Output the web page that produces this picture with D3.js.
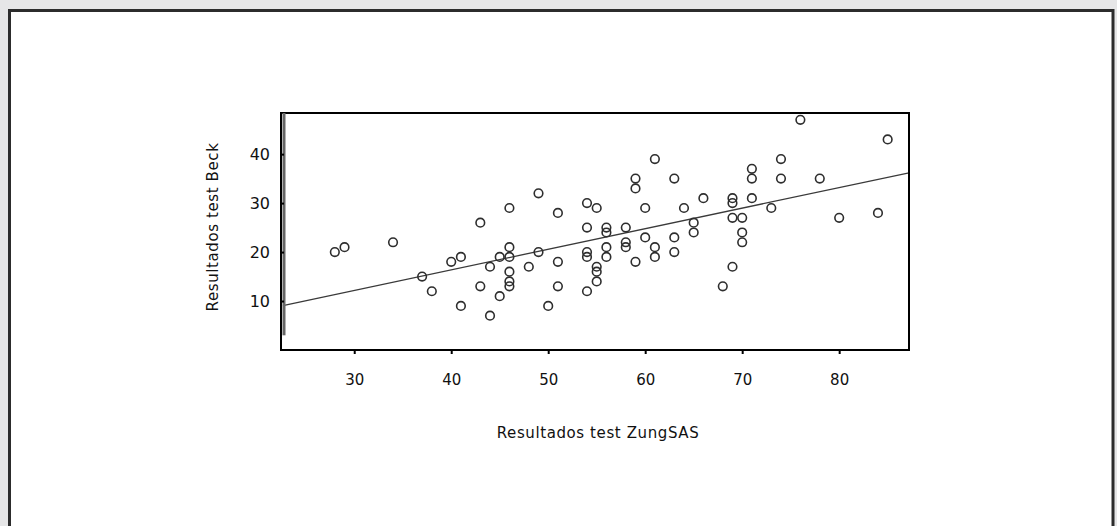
<!DOCTYPE html>
<html>
<head>
<meta charset="utf-8">
<script src="https://cdn.jsdelivr.net/npm/d3@7"></script>
<style>
  body { margin: 0; background: #e6e6e7; }
  svg { display: block; }
  text { font-family: "DejaVu Sans", sans-serif; fill: #111; }
</style>
</head>
<body>
<div id="chart"></div>
<script>
// ZungSAS score (x) vs Beck score (y), one entry per subject
const zungScores = [28, 29, 34, 37, 38, 40, 41, 41, 43, 43, 44, 44, 45, 45,
  46, 46, 46, 46, 46, 46, 48, 49, 49, 50, 51, 51, 51, 54, 54, 54, 54, 54,
  55, 55, 55, 55, 56, 56, 56, 56, 58, 58, 58, 59, 59, 59, 60, 60, 61, 61, 61,
  63, 63, 63, 64, 65, 65, 66, 68, 69, 69, 69, 69, 70, 70, 70, 71, 71, 71,
  73, 74, 74, 76, 78, 80, 84, 85];
const beckScores = [20, 21, 22, 15, 12, 18, 19, 9, 26, 13, 17, 7, 19, 11,
  29, 21, 19, 16, 14, 13, 17, 32, 20, 9, 28, 18, 13, 30, 25, 20, 19, 12,
  29, 17, 16, 14, 25, 24, 21, 19, 25, 22, 21, 35, 33, 18, 29, 23, 39, 21, 19,
  35, 23, 20, 29, 26, 24, 31, 13, 31, 30, 27, 17, 27, 24, 22, 37, 35, 31,
  29, 39, 35, 47, 35, 27, 28, 43];

const xTicks = [30, 40, 50, 60, 70, 80];
const yTicks = [10, 20, 30, 40];

// fitted line
const fitIntercept = -0.43;
const fitSlope = 0.42;

const xTitle = 'Resultados test ZungSAS';
const yTitle = 'Resultados test Beck';

const W = 1117, H = 526;
const plot = {left: 281, top: 113, right: 909, bottom: 350};

const svg = d3.select('#chart').append('svg')
  .attr('width', W)
  .attr('height', H);

// white panel with dark frame
svg.append('rect')
  .attr('x', 9.5).attr('y', 10.5)
  .attr('width', 1103.5).attr('height', 530)
  .attr('fill', '#fff')
  .attr('stroke', '#2c2c2c')
  .attr('stroke-width', 3);

const x = d3.scaleLinear().domain([22.45, 87.2]).range([plot.left, plot.right]);
const y = d3.scaleLinear().domain([0, 48.4]).range([plot.bottom, plot.top]);

const points = zungScores.map((v, i) => ({x: v, y: beckScores[i]}));

// regression line, clipped to the plot box
const x0 = 22.65, x1 = x.domain()[1];
svg.append('line')
  .attr('x1', x(x0)).attr('y1', y(fitIntercept + fitSlope * x0))
  .attr('x2', x(x1)).attr('y2', y(fitIntercept + fitSlope * x1))
  .attr('stroke', '#3a3a3a')
  .attr('stroke-width', 1.3);

svg.selectAll('.pt')
  .data(points)
  .enter()
  .append('circle')
    .attr('class', 'pt')
    .attr('cx', d => x(d.x))
    .attr('cy', d => y(d.y))
    .attr('r', 4.3)
    .attr('fill', 'none')
    .attr('stroke', '#2e2e2e')
    .attr('stroke-width', 1.6);

// plot frame
svg.append('rect')
  .attr('x', plot.left).attr('y', plot.top)
  .attr('width', plot.right - plot.left)
  .attr('height', plot.bottom - plot.top)
  .attr('fill', 'none')
  .attr('stroke', '#000')
  .attr('stroke-width', 2);

// x axis
const xAxis = svg.append('g')
  .attr('transform', `translate(0,${plot.bottom})`)
  .call(d3.axisBottom(x).tickValues(xTicks).tickSize(4).tickPadding(20));
xAxis.select('.domain').remove();
xAxis.selectAll('line').attr('stroke', '#000').attr('stroke-width', 2);
xAxis.selectAll('text')
  .style('font-family', '"DejaVu Sans", sans-serif')
  .style('font-size', '15px')
  .attr('fill', '#111');

// y axis: thick grey bar over the frame edge
svg.append('line')
  .attr('x1', plot.left + 3).attr('x2', plot.left + 3)
  .attr('y1', y(48.4)).attr('y2', y(3))
  .attr('stroke', '#666')
  .attr('stroke-width', 3);

const yAxis = svg.append('g')
  .attr('transform', `translate(${plot.left},0)`)
  .call(d3.axisLeft(y).tickValues(yTicks).tickSize(-3).tickPadding(11));
yAxis.select('.domain').remove();
yAxis.selectAll('line').attr('stroke', '#000').attr('stroke-width', 2);
yAxis.selectAll('text')
  .style('font-family', '"DejaVu Sans", sans-serif')
  .style('font-size', '16px')
  .attr('fill', '#111');

// axis titles
svg.append('text')
  .attr('x', 598).attr('y', 438)
  .attr('text-anchor', 'middle')
  .style('font-size', '15px')
  .style('letter-spacing', '0.6px')
  .text(xTitle);

svg.append('text')
  .attr('transform', 'translate(218,227) rotate(-90)')
  .attr('text-anchor', 'middle')
  .style('font-size', '15px')
  .style('letter-spacing', '0.6px')
  .text(yTitle);
</script>
</body>
</html>
